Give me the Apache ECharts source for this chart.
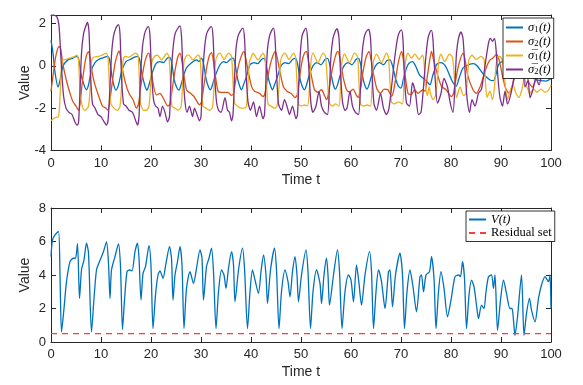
<!DOCTYPE html>
<html>
<head>
<meta charset="utf-8">
<script src="https://cdn.jsdelivr.net/npm/echarts@6/dist/echarts.min.js"></script>
<style>
  html, body { margin: 0; padding: 0; background: #fff; }
  #chart { width: 583px; height: 385px; }
</style>
</head>
<body>
<div id="chart"></div>
<script>
// ---- data: [time, value] ----
const sigma1 = [[0,1.2],[0.4,0.6],[0.8,-0.3],[1.4,-1.0],[1.8,-0.7],[2.4,0.0],[3.4,0.28],[4.3,0.35],[5.1,0.45],[5.5,0.35],[6.0,-0.4],[6.6,-0.9],[7.1,-1.13],[7.5,-0.9],[8.1,-0.2],[8.8,0.15],[9.5,0.3],[10.4,0.38],[11.3,0.45],[11.7,0.3],[12.2,-0.5],[12.6,-0.95],[13.0,-1.15],[13.5,-0.9],[14.2,-0.2],[15.0,0.2],[15.8,0.3],[16.6,0.4],[17.3,0.45],[17.7,0.3],[18.3,-0.5],[18.8,-0.95],[19.2,-1.15],[19.6,-0.9],[20.3,-0.3],[21.0,0.1],[21.8,0.2],[22.5,0.15],[23.2,0.35],[23.7,0.4],[24.1,0.2],[24.6,-0.6],[25.1,-1.0],[25.6,-1.15],[26.0,-0.9],[26.6,-0.4],[27.1,-0.1],[28.1,0.15],[29.1,0.28],[29.6,0.2],[30.1,0.36],[30.5,0.1],[31.0,-0.6],[31.5,-1.0],[31.9,-1.13],[32.3,-0.9],[32.8,-0.5],[33.8,0.05],[34.5,0.2],[35.1,0.15],[35.8,0.3],[36.4,0.36],[36.8,0.1],[37.3,-0.6],[37.8,-1.0],[38.1,-1.13],[38.5,-0.9],[39.1,-0.5],[39.8,0.05],[40.6,0.15],[41.3,0.1],[42.1,0.3],[42.6,0.35],[43.0,0.1],[43.5,-0.6],[44.0,-1.0],[44.3,-1.13],[44.7,-0.9],[45.3,-0.5],[46.0,0.0],[46.8,0.15],[47.5,0.1],[48.3,0.3],[48.9,0.35],[49.3,0.1],[49.8,-0.6],[50.3,-1.0],[50.7,-1.13],[51.1,-0.9],[51.7,-0.4],[52.4,0.0],[53.2,0.15],[54.0,0.05],[54.8,0.3],[55.3,0.35],[55.7,0.1],[56.2,-0.6],[56.6,-1.0],[56.9,-1.1],[57.3,-0.9],[57.9,-0.4],[58.6,0.0],[59.4,0.15],[60.2,0.05],[61.0,0.3],[61.5,0.35],[61.9,0.1],[62.4,-0.6],[62.9,-1.0],[63.2,-1.1],[63.6,-0.9],[64.2,-0.4],[64.9,0.0],[65.7,0.15],[66.5,0.05],[67.2,0.25],[67.8,0.28],[68.3,0.0],[68.9,-0.6],[69.5,-0.97],[70.0,-1.05],[70.5,-0.6],[71.1,-0.1],[71.6,0.12],[72.3,0.2],[72.9,0.0],[73.7,-0.43],[74.5,-0.6],[75.2,-0.75],[75.8,-0.9],[76.3,-0.5],[77.1,0.05],[77.8,0.15],[78.5,0.1],[79.1,-0.1],[80.1,-0.66],[81.0,-0.97],[81.6,-0.6],[82.4,-0.1],[83.5,0.05],[84.5,0.1],[85.2,0.0],[86.5,-0.4],[87.8,-0.67],[88.5,-0.7],[89.0,-0.4],[89.5,0.05],[90.2,0.2],[91.0,-0.2],[92.0,-0.6],[93.0,-0.2],[94.0,0.0],[95.0,-0.3],[96.0,-0.5],[97.0,-0.65],[98.0,-0.7],[99.0,-0.72],[100,-0.6]];

const sigma2 = [[0,-1.2],[0.5,-0.3],[1.0,0.5],[1.6,0.9],[1.9,0.85],[2.3,0.2],[2.7,-0.3],[3.2,-0.8],[3.8,-1.3],[4.4,-1.7],[5.0,-1.9],[5.5,-2.1],[5.8,-1.8],[6.2,-0.9],[6.7,0.0],[7.1,0.5],[7.5,0.67],[7.8,0.4],[8.3,-0.4],[8.8,-0.9],[9.5,-1.4],[10.3,-1.9],[11.0,-2.0],[11.4,-2.1],[11.8,-1.6],[12.3,-0.7],[12.8,0.1],[13.3,0.55],[13.6,0.7],[13.9,0.45],[14.4,-0.3],[15.0,-0.9],[15.6,-1.3],[16.4,-1.6],[17.1,-2.0],[17.5,-1.8],[18.0,-0.9],[18.6,0.0],[19.1,0.45],[19.5,0.6],[19.8,0.4],[20.4,-0.8],[21.1,-1.37],[21.8,-1.3],[22.4,-1.5],[23.4,-1.9],[23.8,-1.8],[24.3,-1.0],[24.9,-0.1],[25.4,0.45],[25.8,0.6],[26.2,0.2],[27.1,-1.14],[27.9,-1.3],[28.6,-1.45],[29.7,-1.84],[30.1,-1.7],[30.6,-0.9],[31.2,0.0],[31.7,0.5],[32.1,0.62],[32.5,0.2],[33.4,-1.2],[34.2,-1.25],[35.4,-1.25],[36.1,-1.4],[36.5,-1.3],[37.0,-0.6],[37.6,0.1],[38.2,0.55],[38.6,0.68],[39.0,0.3],[39.4,-0.2],[40.1,-0.97],[40.7,-1.2],[41.7,-1.3],[42.4,-1.45],[42.8,-1.3],[43.3,-0.6],[43.9,0.1],[44.5,0.55],[44.9,0.68],[45.3,0.3],[45.8,-0.3],[46.5,-1.0],[47.2,-1.2],[48.0,-1.3],[48.8,-1.5],[49.2,-1.4],[49.7,-0.6],[50.2,0.2],[50.7,0.6],[51.1,0.68],[51.5,0.2],[52.1,-0.5],[52.7,-1.13],[53.4,-1.25],[54.1,-1.13],[54.7,-1.4],[55.1,-1.6],[55.5,-1.3],[56.0,-0.5],[56.6,0.2],[57.1,0.6],[57.4,0.68],[57.9,0.2],[58.4,-0.5],[59.1,-1.13],[59.7,-1.25],[60.4,-1.1],[61.1,-1.4],[61.4,-1.5],[61.9,-1.1],[62.4,-0.3],[63.0,0.4],[63.6,0.68],[64.0,0.3],[64.6,-0.5],[65.2,-1.1],[65.9,-1.3],[66.6,-1.1],[67.4,-1.13],[68.1,-1.45],[68.5,-1.2],[69.0,-0.5],[69.5,0.2],[70.1,0.68],[70.4,0.4],[70.7,-0.2],[71.4,-1.3],[72.1,-1.35],[72.7,-1.13],[73.4,-1.3],[74.4,-1.13],[74.8,-1.2],[75.2,-0.6],[75.7,0.2],[76.1,0.68],[76.5,0.3],[77.4,-0.5],[78.1,-0.97],[79.0,-1.13],[80.1,-1.45],[80.5,-1.3],[81.0,-0.6],[81.6,0.1],[82.4,0.6],[82.8,0.3],[83.4,-0.5],[84.4,-1.13],[85.1,-1.3],[85.8,-1.0],[86.5,-0.5],[87.2,0.0],[87.8,0.28],[88.3,0.35],[89.1,0.55],[89.7,0.2],[90.4,-0.6],[91.0,-1.1],[91.6,-1.3],[92.3,-0.9],[93.0,-0.3],[93.7,0.3],[94.3,0.5],[95.0,-0.2],[95.6,-0.8],[96.3,-1.0],[97.0,-0.6],[97.7,-0.1],[98.4,0.4],[99.2,0.6],[100,0.5]];

const sigma1Bar = [[0,-2.6],[0.8,-2.45],[1.5,-2.4],[1.8,-1.5],[2.1,0.0],[2.4,0.28],[3.0,0.3],[3.6,0.35],[4.2,0.4],[4.8,0.45],[5.2,0.5],[5.5,0.3],[5.8,-1.2],[6.1,-1.75],[6.7,-2.1],[7.1,-2.05],[7.5,-1.9],[7.8,-1.2],[8.1,0.2],[8.5,0.4],[9.5,0.45],[10.2,0.5],[11.0,0.6],[11.4,0.4],[11.7,-1.0],[12.0,-1.8],[12.6,-2.0],[13.3,-2.1],[13.8,-1.9],[14.1,-1.0],[14.4,0.2],[14.8,0.45],[15.5,0.4],[16.2,0.5],[16.9,0.6],[17.4,0.5],[17.7,-0.8],[17.9,-1.76],[18.5,-2.1],[19.1,-2.1],[19.6,-1.9],[19.9,-1.0],[20.2,0.2],[20.7,0.44],[21.3,0.5],[22.1,0.28],[22.7,0.45],[23.2,0.6],[23.6,0.4],[23.9,-0.8],[24.2,-1.9],[24.8,-2.0],[25.4,-2.1],[26.0,-1.95],[26.3,-1.0],[26.6,0.2],[27.0,0.45],[27.5,0.52],[28.4,0.28],[29.4,0.52],[29.8,0.4],[30.1,-0.8],[30.4,-1.9],[31.0,-2.0],[31.7,-2.1],[32.3,-1.95],[32.6,-1.0],[32.9,0.2],[33.3,0.5],[33.8,0.6],[34.6,0.3],[35.5,0.6],[36.1,0.45],[36.4,-0.8],[36.7,-1.76],[37.3,-1.9],[38.0,-2.0],[38.7,-2.0],[39.1,-1.9],[39.4,-0.8],[39.7,0.2],[40.1,0.44],[40.4,0.6],[41.4,0.28],[42.4,0.6],[42.8,0.4],[43.1,-0.8],[43.4,-1.8],[44.0,-1.9],[44.7,-2.0],[45.2,-1.9],[45.6,-1.0],[45.9,0.2],[46.3,0.5],[46.8,0.6],[47.6,0.3],[48.5,0.6],[48.9,0.4],[49.2,-0.8],[49.5,-1.8],[50.1,-1.9],[50.7,-1.85],[51.3,-1.9],[51.7,-1.0],[52.0,0.2],[52.4,0.6],[53.4,0.15],[54.4,0.6],[54.9,0.44],[55.3,-0.8],[55.7,-1.76],[56.3,-1.9],[56.9,-1.8],[57.6,-1.9],[57.9,-1.0],[58.2,0.2],[58.7,0.55],[59.7,0.15],[60.7,0.6],[61.3,0.44],[61.6,-0.8],[61.9,-1.8],[62.5,-1.9],[63.2,-1.85],[63.9,-1.9],[64.2,-1.0],[64.5,0.2],[65.1,0.55],[66.1,0.15],[67.1,0.6],[67.5,0.4],[67.8,-0.8],[68.1,-1.7],[68.7,-1.8],[69.5,-1.7],[70.3,-1.8],[70.6,-0.8],[70.9,0.2],[71.4,0.6],[72.1,0.36],[72.8,0.55],[73.6,0.3],[74.3,0.5],[74.6,0.2],[74.9,-1.0],[75.3,-1.4],[75.6,-1.0],[76.0,-1.4],[76.5,-1.6],[77.0,-1.3],[77.3,-0.5],[77.6,0.3],[78.0,0.55],[78.7,0.2],[79.7,0.55],[80.3,0.4],[80.7,-0.6],[81.1,-1.5],[81.8,-1.0],[82.5,-1.4],[83.0,-1.3],[83.3,-0.5],[83.6,0.3],[84.2,0.5],[85.0,0.3],[86.0,0.45],[86.6,0.3],[86.9,-0.8],[87.2,-1.5],[87.8,-1.2],[88.3,-1.6],[88.7,-1.0],[89.0,0.0],[89.5,0.44],[90.0,0.4],[90.5,0.0],[90.9,-1.0],[91.3,-1.6],[91.8,-1.2],[92.4,-0.9],[93.0,-1.3],[93.6,-1.5],[94.2,-1.1],[94.7,-0.6],[95.2,-1.0],[95.8,-1.3],[96.5,-1.1],[97.2,-1.25],[98.0,-1.1],[98.8,-1.25],[99.5,-1.15],[100,-0.9]];

const sigma2Bar = [[0,2.35],[0.5,2.4],[1.2,2.3],[1.6,1.9],[2.0,0.3],[2.5,-1.4],[3.0,-2.0],[3.6,-2.2],[4.2,-2.3],[4.7,-2.6],[5.2,-2.8],[5.5,-2.7],[5.8,-1.2],[6.1,0.6],[6.5,1.5],[7.0,1.9],[7.3,2.05],[7.6,1.6],[7.9,-0.4],[8.3,-1.8],[8.8,-2.0],[9.4,-2.3],[10.0,-2.4],[10.5,-2.6],[11.1,-2.8],[11.4,-2.6],[11.8,-1.0],[12.1,0.5],[12.5,1.4],[13.0,1.8],[13.5,1.95],[13.8,1.5],[14.1,-0.5],[14.5,-1.8],[15.0,-1.9],[15.6,-2.1],[16.3,-2.2],[16.8,-2.5],[17.3,-2.8],[17.6,-2.4],[17.9,-0.5],[18.3,0.9],[18.7,1.5],[19.1,1.75],[19.5,1.85],[19.8,1.4],[20.1,-0.3],[20.5,-1.6],[20.9,-1.9],[21.4,-2.0],[21.8,-2.4],[22.3,-1.9],[22.8,-2.2],[23.3,-2.65],[23.7,-2.4],[24.0,-0.6],[24.4,0.8],[24.8,1.5],[25.3,1.75],[25.8,1.88],[26.1,1.4],[26.4,-0.3],[26.8,-1.7],[27.2,-2.2],[27.7,-1.9],[28.3,-2.4],[28.7,-2.0],[29.2,-2.3],[29.7,-2.6],[30.0,-2.4],[30.3,-0.6],[30.7,0.8],[31.1,1.5],[31.6,1.75],[32.1,1.85],[32.4,1.4],[32.7,-0.3],[33.1,-1.7],[33.5,-2.1],[34.0,-2.2],[34.8,-1.5],[35.3,-2.1],[35.7,-2.2],[36.1,-2.6],[36.4,-2.3],[36.7,-0.6],[37.0,0.8],[37.4,1.4],[37.9,1.65],[38.4,1.78],[38.7,1.3],[39.0,-0.3],[39.4,-1.7],[39.9,-2.1],[40.5,-1.7],[41.1,-2.4],[41.7,-1.9],[42.4,-2.5],[42.7,-2.3],[43.0,-0.6],[43.3,0.8],[43.7,1.4],[44.1,1.65],[44.5,1.78],[44.8,1.3],[45.1,-0.3],[45.5,-1.8],[46.1,-2.1],[46.7,-1.6],[47.3,-2.0],[47.7,-2.3],[48.3,-1.9],[49.0,-2.5],[49.3,-2.3],[49.6,-0.6],[49.9,0.7],[50.2,1.4],[50.6,1.65],[51.0,1.78],[51.3,1.3],[51.6,-0.3],[52.0,-1.8],[52.4,-2.2],[53.0,-1.9],[53.6,-1.2],[54.1,-1.9],[54.7,-2.2],[55.3,-2.3],[55.7,-1.0],[56.0,0.5],[56.4,1.3],[56.8,1.6],[57.2,1.75],[57.6,1.3],[57.9,-0.3],[58.3,-1.7],[58.8,-2.1],[59.2,-2.0],[59.8,-1.2],[60.3,-1.9],[60.9,-2.2],[61.5,-2.3],[61.9,-1.0],[62.2,0.5],[62.6,1.3],[63.0,1.6],[63.5,1.72],[63.9,1.3],[64.2,-0.3],[64.6,-1.8],[65.1,-2.1],[65.9,-1.3],[66.5,-2.0],[67.1,-2.3],[67.6,-2.0],[68.2,-0.8],[68.7,0.3],[69.3,1.3],[69.7,1.6],[70.1,1.7],[70.4,1.2],[70.7,-0.5],[71.1,-1.76],[71.7,-1.9],[72.3,-0.8],[72.9,-1.3],[73.5,-2.3],[74.0,-2.2],[74.5,-1.0],[75.0,0.5],[75.4,1.3],[75.8,1.6],[76.1,1.67],[76.4,1.2],[76.8,-0.5],[77.3,-1.76],[78.0,-1.3],[78.6,-0.6],[79.3,-1.0],[79.8,-1.7],[80.4,-2.2],[80.8,-0.8],[81.1,0.6],[81.5,1.3],[82.0,1.6],[82.4,1.3],[82.8,-0.2],[83.2,-1.5],[83.7,-2.2],[84.2,-1.6],[84.8,-1.9],[85.5,-1.3],[86.1,-1.1],[86.8,0.0],[87.5,1.07],[87.9,1.3],[88.3,1.15],[88.7,1.3],[89.0,0.8],[89.4,-0.6],[89.8,-1.5],[90.3,-1.9],[90.8,-1.2],[91.3,-1.8],[92.0,-1.3],[92.6,-0.5],[93.2,0.9],[93.8,1.4],[94.3,0.4],[94.8,-1.0],[95.4,-0.7],[95.8,-1.5],[96.3,-1.2],[97.0,-0.6],[97.6,-0.9],[98.2,-0.3],[98.8,0.4],[99.4,1.1],[100,1.27]];

const lyapunovV = [[0,5.1],[0.3,6.1],[0.8,6.4],[1.5,6.6],[1.8,4.0],[2.1,0.6],[2.6,2.0],[3.1,3.6],[3.8,4.8],[4.5,5.0],[4.9,5.0],[5.3,5.87],[5.7,2.6],[6.1,4.3],[6.6,4.9],[7.1,5.9],[7.5,5.3],[8.1,0.6],[8.6,2.6],[9.1,4.3],[9.7,4.8],[10.5,5.4],[11.1,5.97],[11.5,4.7],[11.8,2.6],[12.1,4.3],[12.8,5.1],[13.5,5.85],[13.9,4.5],[14.3,0.75],[14.7,2.5],[15.2,4.2],[15.7,4.3],[16.2,4.25],[16.8,5.4],[17.3,5.9],[17.6,5.0],[18.0,2.5],[18.4,4.1],[18.9,4.5],[19.6,5.75],[20.0,4.5],[20.4,0.8],[20.9,2.8],[21.4,4.0],[21.8,4.25],[22.4,3.8],[23.0,4.7],[23.7,5.7],[24.1,5.0],[24.4,2.5],[24.8,4.0],[25.3,4.8],[25.8,5.7],[26.2,4.6],[26.6,0.8],[27.1,3.2],[27.8,4.2],[28.5,3.5],[29.1,4.4],[29.8,5.5],[30.2,5.0],[30.5,2.5],[31.1,4.5],[31.6,5.0],[32.1,5.6],[32.5,4.2],[33.0,0.8],[33.5,3.0],[34.1,4.3],[34.6,4.0],[35.0,3.2],[35.5,4.4],[36.1,5.4],[36.5,4.6],[36.8,2.4],[37.5,4.3],[38.3,5.6],[38.7,4.4],[39.3,0.8],[39.8,3.0],[40.3,4.3],[40.8,3.7],[41.5,2.9],[42.0,4.2],[42.5,5.2],[43.0,4.0],[43.3,2.3],[43.9,4.3],[44.7,5.6],[45.1,4.3],[45.6,0.8],[46.1,3.0],[46.8,4.3],[47.4,3.6],[47.8,2.7],[48.3,4.2],[48.8,5.1],[49.2,4.0],[49.5,2.4],[50.1,4.0],[51.0,5.5],[51.4,4.2],[51.9,0.8],[52.4,3.0],[53.1,4.3],[53.8,3.5],[54.1,2.3],[54.6,4.0],[55.1,5.0],[55.4,4.0],[55.7,2.2],[56.5,4.0],[57.3,5.5],[57.7,4.2],[58.2,0.8],[58.8,3.0],[59.5,4.0],[60.0,3.7],[60.5,2.4],[61.1,4.6],[61.6,3.5],[62.1,2.2],[62.8,4.0],[63.7,5.4],[64.1,4.2],[64.5,0.8],[65.0,3.0],[65.5,4.3],[66.1,3.6],[66.8,2.0],[67.5,4.2],[67.8,4.3],[68.3,2.1],[68.9,4.0],[69.8,5.3],[70.3,4.0],[70.7,0.8],[71.2,3.0],[71.8,4.3],[72.4,3.3],[73.1,1.8],[73.8,3.9],[74.1,4.0],[74.5,3.0],[75.0,4.0],[75.7,4.2],[76.1,5.1],[76.6,3.8],[77.0,0.8],[77.5,3.0],[78.0,4.2],[78.6,3.2],[79.3,1.5],[80.0,2.5],[80.8,3.9],[81.5,4.0],[81.9,3.9],[82.3,4.8],[82.7,3.8],[83.1,0.8],[83.6,2.8],[84.1,3.7],[84.6,3.3],[85.1,2.2],[85.5,1.4],[86.1,2.2],[86.6,2.0],[87.0,3.0],[87.5,3.9],[88.1,4.0],[88.5,3.2],[88.8,4.0],[89.3,0.7],[89.9,2.5],[90.5,3.7],[91.1,2.9],[91.8,2.0],[92.2,2.0],[92.5,1.3],[92.8,0.4],[93.3,1.5],[94.1,4.0],[94.6,0.4],[95.1,1.7],[95.7,2.6],[96.1,1.9],[96.8,1.2],[97.5,2.6],[98.1,3.4],[98.8,3.9],[99.5,3.6],[99.8,4.0],[100,2.0]];

const residualLevel = [[0,0.5],[100,0.5]];

const timeTicks = { min: 0, max: 100, interval: 10 };
const topValueTicks = { min: -4, max: 2.4, interval: 2 };
const bottomValueTicks = { min: 0, max: 8, interval: 2 };

// legend labels: symbol, subscript, overline flag
const sigmaNames = ['s1', 's2', 'b1', 'b2'];
const sigmaLabels = {
  s1: '{it|\u03c3}{sub|1}{it|(t)}',
  s2: '{it|\u03c3}{sub|2}{it|(t)}',
  b1: '{it|\u03c3\u0305}{sub|1}{it|(t)}',
  b2: '{it|\u03c3\u0305}{sub|2}{it|(t)}'
};

// ---- chart ----
const chart = echarts.init(document.getElementById('chart'));
const ink = '#262626';
const sans = 'Liberation Sans, Arial, sans-serif';
const serif = 'Liberation Serif, Times New Roman, serif';

const xMain = (grid) => ({
  gridIndex: grid, type: 'value', ...timeTicks,
  axisLine: { onZero: false, lineStyle: { color: ink, width: 1 } },
  axisTick: { inside: true, length: 5, lineStyle: { color: ink } },
  axisLabel: { color: ink, fontSize: 13, fontFamily: sans, margin: 6 },
  splitLine: { show: false },
  name: 'Time t', nameLocation: 'middle', nameGap: 23, nameMoveOverlap: false,
  nameTextStyle: { color: ink, fontSize: 14, fontFamily: sans }
});
const xTop = (grid) => ({
  gridIndex: grid, type: 'value', position: 'top', ...timeTicks,
  axisLine: { onZero: false, lineStyle: { color: ink, width: 1 } },
  axisTick: { inside: true, length: 5, lineStyle: { color: ink } },
  axisLabel: { show: false }, splitLine: { show: false }
});
const yMain = (grid, ticks) => ({
  gridIndex: grid, type: 'value', ...ticks,
  axisLine: { show: true, onZero: false, lineStyle: { color: ink, width: 1 } },
  axisTick: { show: true, inside: true, length: 5, lineStyle: { color: ink } },
  axisLabel: { color: ink, fontSize: 13, fontFamily: sans, margin: 5, showMaxLabel: ticks.max % ticks.interval === 0 },
  splitLine: { show: false },
  name: 'Value', nameLocation: 'middle', nameGap: 19, nameMoveOverlap: false,
  nameTextStyle: { color: ink, fontSize: 14, fontFamily: sans }
});
const yRight = (grid, ticks) => ({
  gridIndex: grid, type: 'value', position: 'right', ...ticks,
  axisLine: { show: true, onZero: false, lineStyle: { color: ink, width: 1 } },
  axisTick: { show: true, inside: true, length: 5, lineStyle: { color: ink } },
  axisLabel: { show: false }, splitLine: { show: false }
});

const lineSeries = (name, data, color, xi, yi) => ({
  name, type: 'line', data, xAxisIndex: xi, yAxisIndex: yi,
  showSymbol: false, symbol: 'none', smooth: 0.25,
  lineStyle: { color, width: 1.3 }, itemStyle: { color },
  emphasis: { disabled: true }
});

const legendText = {
  fontFamily: serif, fontSize: 12.5, color: '#000',
  rich: {
    it: { fontFamily: serif, fontStyle: 'italic', fontSize: 12.5, color: '#000', lineHeight: 14, verticalAlign: 'middle' },
    sub: { fontFamily: serif, fontSize: 8.5, color: '#000', lineHeight: 14, verticalAlign: 'bottom', padding: [0, 0.5, 0, 0] },
    rm: { fontFamily: serif, fontSize: 12.5, color: '#000', lineHeight: 14 }
  }
};

const legendBase = {
  orient: 'vertical', itemGap: 0.5, itemWidth: 17, itemHeight: 10,
  backgroundColor: '#fff', borderColor: '#000', borderWidth: 0.8,
  itemStyle: { opacity: 0 }, textStyle: legendText
};

chart.setOption({
  animation: false,
  grid: [
    { left: 51, top: 15, width: 500, height: 135.5 },
    { left: 51, top: 208, width: 500, height: 134 }
  ],
  xAxis: [xMain(0), xTop(0), xMain(1), xTop(1)],
  yAxis: [yMain(0, topValueTicks), yRight(0, topValueTicks), yMain(1, bottomValueTicks), yRight(1, bottomValueTicks)],
  legend: [
    Object.assign({}, legendBase, {
      data: sigmaNames,
      left: 503, top: 18, padding: [3, 3, 2, 2],
      formatter: (n) => sigmaLabels[n]
    }),
    Object.assign({}, legendBase, {
      data: ['V(t)', 'Residual set'],
      left: 466, top: 211, padding: [2, 3, 2, 2],
      formatter: (n) => n === 'V(t)' ? '{it|V(t)}' : '{rm|Residual set}'
    })
  ],
  series: [
    lineSeries(sigmaNames[0], sigma1, '#0072BD', 0, 0),
    lineSeries(sigmaNames[1], sigma2, '#D95319', 0, 0),
    lineSeries(sigmaNames[2], sigma1Bar, '#EDB120', 0, 0),
    lineSeries(sigmaNames[3], sigma2Bar, '#7E2F8E', 0, 0),
    lineSeries('V(t)', lyapunovV, '#0072BD', 2, 2),
    {
      name: 'Residual set', type: 'line', data: residualLevel, xAxisIndex: 2, yAxisIndex: 2,
      showSymbol: false, symbol: 'none',
      lineStyle: { color: '#FF3B3B', width: 1.3, type: [6, 5] }, itemStyle: { color: '#FF3B3B' },
      emphasis: { disabled: true }
    }
  ]
});
</script>
</body>
</html>
